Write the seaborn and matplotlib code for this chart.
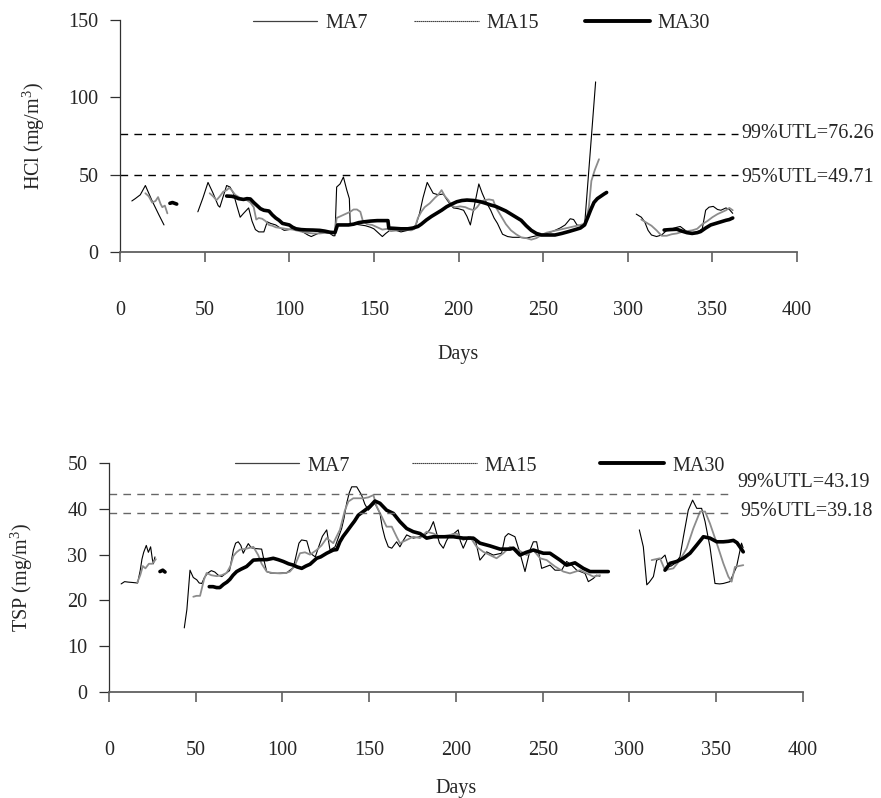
import numpy as np
import pandas as pd
import matplotlib
matplotlib.use("Agg")
import matplotlib.pyplot as plt
import seaborn as sns
from matplotlib.lines import Line2D

NAN = np.nan

# ---- HCl panel (mg/m3), NAN marks a gap in the record ----
HCL_MA7_DAYS = [7, 9, 12, 14, 15, 17, 19, 21, 23, 26, NAN,
                46, 49, 52, 55, 58, 59, 61, 63, 65, 67, 69, 71, 73, 76, 78, 80, 82, 85, 87, 89,
                92, 94, 97, 100, 103, 106, 108, 111, 113, 115, 118, 121, 124, 126, 127, 128, 130,
                132, 134, 135.5, 136, 139, 142, 145, 148, 150, 152, 155, 157, 160, 163, 166, 170,
                173, 175, 177, 179, 181.5, 183, 185, 188, 191, 193, 195, 197, 200, 203, 205, 207,
                209, 212, 214, 216, 219, 221, 223, 226, 229, 232, 236, 240, 244, 248, 252, 256,
                260, 263, 266, 268, 270, 272, 274.5, 281, NAN,
                305, 308, 310, 312, 314, 317, 320, 323, 326, 329, 331, 334, 337, 339, 342, 344,
                346, 348, 350.5, 353, 355, 358, 360, 362]
HCL_MA7 = [33, 34.5, 37, 41, 43, 38, 33, 28.5, 24, 17.5, NAN,
           26, 35, 45, 38, 30, 29, 36, 43, 42, 38, 30, 22.5, 25, 28.5, 20, 14.5, 13, 13, 19.5, 18.5,
           17.5, 16, 14, 14.5, 15.5, 14, 13, 11, 10, 11, 12.5, 12.5, 12, 10.5, 10.5, 42, 44,
           48.5, 40, 34.5, 18.5, 18, 17.5, 17, 16, 15, 13, 10, 12, 14.5, 14, 13, 14,
           14.5, 18, 25, 35, 45, 42, 38, 37, 37.5, 34, 31, 28.5, 28, 27, 23, 17.5,
           28, 44, 38, 33, 27, 22, 18.5, 11.5, 10, 9.5, 9.5, 9, 10, 11, 12, 13.5,
           15.5, 17.5, 21.5, 21, 17.5, 17, 17.5, 110, NAN,
           24.5, 22.5, 19.5, 14, 11, 10, 11, 14, 15, 16, 16.5, 14, 12, 12, 13.5, 15,
           27, 29, 29.5, 27.5, 27, 28.5, 27.5, 25]

HCL_MA15_DAYS = [15, 17, 19, 21, 22.5, 24, 25, 26.5, 28, NAN,
                 53, 55, 57, 59, 61, 63, 64.5, 66, 68, 71, 73, 75, 77, 79, 80.5, 82, 84, 86, 88,
                 90, 92, 95, 98, 102, 106, 110, 114, 118, 122, 125, 127, 128, 130, 132, 134, 136,
                 138, 140, 142, 143.5, 146, 149, 152, 155, 158, 160, 164, 168, 172, 174, 176, 178,
                 180, 183, 186, 188, 190, 192, 194, 196, 198, 201, 204, 206, 209, 211, 213, 215,
                 218, 220.5, 222, 225, 228, 231, 234, 237, 240, 243, 246, 249, 252, 256, 260, 264,
                 268, 272, 275, 277, 278.5, 280.5, 283, NAN,
                 308, 311, 314, 317, 320, 323, 326, 329, 332, 335, 338, 341, 344, 347, 350, 353,
                 356, 358, 360, 362]
HCL_MA15 = [38, 36, 32, 33, 35.5, 31, 29, 30, 25, NAN,
            38, 36, 33.5, 36, 39, 40, 41.5, 40, 37, 35, 34, 33.5, 32, 29, 21, 22, 21.5, 20, 17.5,
            17, 16, 15.5, 15, 14.5, 13.5, 12.5, 12, 12, 12.5, 12, 12.5, 22, 23, 24, 25, 26,
            27.5, 27.5, 26, 20, 18, 17.5, 16, 14.5, 15, 13.5, 14, 14.5, 14, 15, 22, 26,
            29, 31.5, 35, 37, 40, 36, 33.5, 30, 29, 29.5, 29, 28, 27, 29, 32, 33.5,
            34, 33.5, 29, 23.5, 18, 14, 11.5, 9.5, 9, 8, 9, 11, 12.5, 13.5, 14.5, 15.5,
            16.5, 17.5, 18.5, 29, 46, 53, 60, NAN,
            21, 19, 17, 14, 10.5, 10.5, 11.5, 12, 13, 13.5, 14, 15, 18, 20, 22.5, 24.5,
            26, 27, 28.5, 27]

HCL_MA30_DAYS = [29.5, 31, 33.5, NAN,
                 63, 66, 68, 70, 73, 75, 77, 79, 81, 83, 85, 88, 90, 92, 94, 96, 98, 100, 102, 104,
                 107, 110, 114, 118, 121, 124, 127, 128.5, 132, 135, 138, 141, 144, 148, 152, 156,
                 158.3, 158.8, 162, 166, 170, 173, 176, 178, 181, 184, 187, 190, 193, 196, 199, 202,
                 205, 209, 213, 216, 219, 222, 225, 228, 231, 234, 237, 240, 243, 246, 249, 253,
                 257, 261, 265, 269, 272, 274.5, 276.5, 278, 280, 282, 284, 286, 287.5, NAN,
                 321.5, 325, 329, 332, 335, 338, 341, 343, 346, 349, 352, 355, 358, 360, 362]
HCL_MA30 = [31.5, 32, 31, NAN,
            36.2, 36, 35.5, 34.5, 34, 34.5, 34.3, 32, 30, 28, 27, 26.5, 24, 22, 20.5, 18.5, 18, 17.5, 16, 15,
            14.5, 14.3, 14.2, 14, 13.5, 12.8, 12.5, 17.5, 17.5, 17.5, 18, 19, 19.5, 20, 20.3, 20.3,
            20.3, 15.5, 15.3, 15, 15, 15.5, 16.5, 18, 20.7, 23, 25, 27, 29.3, 31, 32.5, 33.3,
            33.6, 33.3, 32.5, 31.5, 30.4, 29.5, 28, 26.5, 24.5, 22.5, 20.5, 17, 14, 12, 11, 11,
            11, 12, 13.2, 14.5, 15.5, 17.5, 22.8, 27, 32, 34.5, 36, 37.5, 38.5, NAN,
            14.2, 14.5, 14.7, 13.5, 12.5, 12, 12.5, 13.2, 15.5, 17.5, 18.5, 19.5, 20.5, 21, 22]

# ---- TSP panel (mg/m3) ----
TSP_MA7_DAYS = [7, 9, 11, 14, 16.5, 18, 19, 20, 21.5, 22.7, 24, 25, 25.6, 26.5, NAN,
                43.4, 44.9, 46.7, 48.6, 50.6, 52, 53.5, 55, 57, 59, 61, 63, 65, 67, 69.5, 71.7, 73,
                74.5, 76, 77.4, 79, 80.3, 82, 85, 88, 89.5, 90.9, 93, 97, 100, 102.4, 104, 106.3,
                108, 109.5, 111, 114, 116, 118.9, 121.6, 123, 125.5, 127.4, 130.3, 132, 134.1,
                135.5, 137, 138.5, 139.9, 142.8, 145.6, 147.5, 149.5, 151.4, 153.3, 156.2, 157.5,
                159.1, 161, 163, 165.8, 167.7, 169.5, 171.6, 175.4, 179.3, 183.1, 185, 187, 188.9,
                190.5, 192.7, 194.5, 196.5, 198.5, 201.3, 202.5, 204.2, 207.1, 210.9, 212.5, 213.8,
                217.7, 221.5, 226.3, 228.3, 230.2, 234, 236.9, 239.8, 242.7, 244.6, 246.5, 249.4,
                254.2, 257.1, 260.9, 263.8, 266.7, 269.6, 274.4, 276.3, 279.2, 281, 283, NAN,
                305.7, 308, 310, 311.5, 313.8, 315.7, 318.6, 320.5, 322.4, 324, 326.3, 329.1,
                331.1, 333.9, 336.4, 338.8, 341.6, 343.6, 346.4, 349.3, 352, 354.1, 357.9, 361.7,
                364.6, 365.5]
TSP_MA7 = [23.6, 24.1, 24, 23.9, 23.8, 26.5, 29, 30.5, 32, 30.5, 31.7, 29, 28, 29.5, NAN,
           14, 18, 26.6, 25, 24.5, 23.8, 23.7, 25, 26, 26.5, 26.2, 25.5, 25.2, 25.8, 26.5, 31, 32.5,
           32.8, 32, 30.3, 31.5, 32.4, 31.5, 31.3, 31.2, 28.5, 26.3, 26, 25.9, 26, 26, 26.5, 27.2,
           30, 32.5, 33.2, 33, 30.3, 29.5, 32.5, 34, 35.4, 31, 31.7, 33.5, 35.7,
           38, 41.2, 43.5, 44.8, 44.8, 43, 41, 39.7, 40.5, 41.2, 39, 36,
           33.6, 31.7, 31.4, 32.8, 31.7, 33, 34.3, 33.6, 33.9, 34.6, 35.5, 37.2, 34.6,
           32.5, 31.4, 33, 34.3, 34.5, 35.4, 33, 31.4, 33.9, 33.6, 31, 28.8,
           30.6, 29.9, 30.3, 33.9, 34.6, 33.9, 30.3, 26.3, 31, 32.8, 32.8, 27,
           27.7, 26.6, 26.6, 28.5, 27.7, 26.6, 25.9, 24.1, 24.8, 25.5, 25.3, NAN,
           35.4, 31.7, 23.4, 24, 25.2, 28.8, 29.2, 29.9, 27.4, 27.5, 28.1, 29.5,
           33.9, 39.7, 41.9, 40.1, 40.1, 37.2, 31.7, 23.7, 23.6, 23.7, 24.1, 27.3,
           32.5, 31.5]

TSP_MA15_DAYS = [16.3, 18, 19.5, 21, 23, 25, 27, NAN,
                 48.6, 50.5, 52.5, 54.8, 56.3, 59, 62.1, 65, 67.8, 70, 71.7, 73.5, 75.5, 78, 80.3,
                 83.2, 86, 88, 90.9, 94, 98.6, 102, 104.3, 107, 110.1, 113, 115.9, 119.7, 122.5,
                 125.5, 129.3, 133.1, 136, 138, 140.8, 143.5, 146.6, 149.5, 152.4, 154.3, 157.2,
                 160, 163, 165.8, 167.7, 171.6, 175.4, 179.3, 183.1, 187, 190.8, 196.5, 200.4,
                 204.2, 208.1, 211.9, 215.8, 219.6, 223.4, 227.3, 231.2, 236, 240.8, 244.6, 248.5,
                 252.3, 257.1, 261.9, 265.7, 271.5, 275.4, 279.2, 283, NAN,
                 312.8, 317.6, 320.5, 325.3, 329.1, 333, 336.8, 340.7, 343.6, 346.4, 350.3, 354.1,
                 357, 358.9, 360.8, 363, 365.6]
TSP_MA15 = [23.9, 25.5, 27.5, 27, 28, 28, 29, NAN,
            20.8, 21, 21, 24.6, 26, 25.5, 25.3, 25.5, 26, 27.5, 29.7, 30.5, 31.1, 31.2, 31.4,
            31.7, 29.9, 28, 26.3, 26, 25.9, 26, 26.3, 27.5, 30.3, 30.5, 30, 31, 32,
            33.6, 32.5, 35.4, 39.7, 41.6, 42.3, 42.3, 42.3, 42.5, 43, 40.5, 38.3,
            36.1, 36.1, 33.9, 32.5, 33.2, 33.9, 33.6, 35, 34.6, 33.9, 34.3, 34.6,
            33.2, 33.9, 31.7, 30.6, 29.9, 29.2, 30.3, 31.7, 31, 29.9, 31, 29.2,
            28.8, 27.4, 26.3, 25.9, 26.6, 25.9, 25.2, 25.5, NAN,
            28.8, 29.2, 26.6, 27, 28.8, 31.4, 35.7, 39.4, 39.4, 36.8, 32.5, 28.1,
            25.2, 24.1, 27.3, 27.5, 27.7]

TSP_MA30_DAYS = [29.4, 31, 32.3, NAN,
                 57.8, 60, 62, 63.9, 66, 68, 69.7, 71.5, 73.6, 76, 79.3, 81, 83.2, 87, 90.9, 94.7,
                 97.5, 100.5, 103.5, 106.3, 108.5, 111.1, 113.5, 115.9, 119.7, 122, 125.5, 129.3,
                 131.3, 133.1, 135, 137, 139.9, 141.5, 143.7, 147.6, 150.4, 153.3, 156.2, 160,
                 163.9, 167.7, 171.6, 175.4, 179.3, 183.1, 187, 192.7, 198.5, 204.2, 210, 213.8,
                 219.6, 225.4, 231.1, 233.1, 236.9, 240.5, 244.6, 250.4, 254.2, 260, 263.8, 268.6,
                 273.4, 277.3, 283, 287.8, NAN,
                 320.5, 323.4, 327.2, 331.1, 334.9, 338.8, 342.6, 346.4, 350.3, 354.1, 357, 359.9,
                 362, 364, 365.6]
TSP_MA30 = [26.3, 26.6, 26.2, NAN,
            23, 23, 22.8, 22.8, 23.5, 24, 24.6, 25.5, 26.3, 26.8, 27.4, 28, 28.8, 28.9, 28.9, 29.2,
            28.9, 28.5, 28, 27.7, 27.3, 27, 27.5, 27.9, 29.2, 29.5, 30.3, 31,
            31.1, 32.8, 34, 35, 36.5, 37.3, 38.6, 39.7, 40.5, 41.7, 41.2, 39.7,
            39, 37.2, 35.7, 35, 34.6, 33.6, 33.9, 33.9, 33.9, 33.6, 33.6, 32.5,
            31.9, 31.2, 31.2, 31.4, 29.9, 30.5, 31, 30.3, 30.3, 28.8, 27.7, 28.2,
            27, 26.3, 26.3, 26.3, NAN,
            26.6, 28.1, 28.5, 29.2, 30.3, 32.1, 33.9, 33.6, 32.8, 32.8, 32.9, 33.1,
            32.6, 31.5, 30.6]

HCL_UTL = [76.26, 49.71]
TSP_UTL = [43.19, 39.18]
SERIES = ["MA7", "MA15", "MA30"]
X_TICKS = list(range(0, 401, 50))

# colour and line width per series
STYLE = {"MA7": ("black", 0.8), "MA15": ("#8c8c8c", 1.3), "MA30": ("black", 2.6)}
FS = 14.5


def to_frame(days, vals, name):
    df = pd.DataFrame({"Day": days, "Value": vals})
    df["seg"] = df["Value"].isna().cumsum()
    df = df.dropna()
    df["Series"] = name
    return df


def panel(ax, data, utl, ylim, yticks, ylabel, dash_color, utl_pos, colspace, dash_end):
    for name, (days, vals) in zip(SERIES, data):
        df = to_frame(days, vals, name)
        color, lw = STYLE[name]
        sns.lineplot(data=df, x="Day", y="Value", units="seg", estimator=None, sort=False,
                     color=color, lw=lw, ax=ax, legend=False)

    # upper tolerance limits
    for val, (tx, ty) in zip(utl, utl_pos):
        ax.plot([0, dash_end], [val, val], color=dash_color, lw=1.0, ls=(0, (5.5, 4.5)))
        pct = "99" if val == max(utl) else "95"
        ax.text(tx, ty, f"{pct}%UTL={val:.2f}", fontsize=FS, va="center", ha="left", clip_on=False)

    ax.set_xlim(0, 400)
    ax.set_ylim(*ylim)
    ax.set_xticks(X_TICKS)
    ax.set_yticks(yticks)
    ax.set_xlabel("Days", fontsize=FS)
    ax.set_ylabel(ylabel, fontsize=FS)
    sns.despine(ax=ax)
    ax.spines["bottom"].set_color("#606060")
    ax.spines["bottom"].set_linewidth(1.3)
    ax.spines["left"].set_color("#303030")
    ax.spines["left"].set_linewidth(0.9)
    ax.tick_params(axis="x", length=7.5, width=1.2, color="#606060", pad=28, labelsize=FS)
    ax.tick_params(axis="y", length=7.5, width=0.9, color="#303030", pad=8, labelsize=FS)

    handles = [Line2D([], [], color="#404040", lw=0.9),
               Line2D([], [], color="#202020", lw=0.8, ls=(0, (1.2, 0.6))),
               Line2D([], [], color="black", lw=2.8)]
    ax.legend(handles, SERIES, loc="center", bbox_to_anchor=(0.534, 0.987), ncol=3, frameon=False,
              fontsize=FS, handlelength=3.2, handletextpad=0.4, columnspacing=colspace,
              borderaxespad=0, borderpad=0)


sns.set_theme(style="ticks")
plt.rcParams["font.family"] = ["Liberation Serif", "DejaVu Serif"]
plt.rcParams["mathtext.fontset"] = "custom"
plt.rcParams["mathtext.rm"] = "Liberation Serif"

fig = plt.figure(figsize=(8.81, 7.98), dpi=100)
ax1 = fig.add_axes([0.1362, 0.6842, 0.7685, 0.2907])
ax2 = fig.add_axes([0.1237, 0.1328, 0.7877, 0.2870])

panel(ax1, [(HCL_MA7_DAYS, HCL_MA7), (HCL_MA15_DAYS, HCL_MA15), (HCL_MA30_DAYS, HCL_MA30)],
      HCL_UTL, (0, 150), [0, 50, 100, 150], r"HCl (mg/m$^{3}$)", "black",
      [(367.3, 76.8), (367.3, 48.4)], 2.3, 365)
panel(ax2, [(TSP_MA7_DAYS, TSP_MA7), (TSP_MA15_DAYS, TSP_MA15), (TSP_MA30_DAYS, TSP_MA30)],
      TSP_UTL, (0, 50), [0, 10, 20, 30, 40, 50], r"TSP (mg/m$^{3}$)", "#666666",
      [(362.0, 45.7), (363.7, 39.5)], 3.1, 360)

ax1.yaxis.set_label_coords(-0.108, 0.5)
ax2.yaxis.set_label_coords(-0.107, 0.5)
ax1.xaxis.set_label_coords(0.5, -0.40)
ax2.xaxis.set_label_coords(0.5, -0.38)

fig.savefig("out.png", dpi=100)
